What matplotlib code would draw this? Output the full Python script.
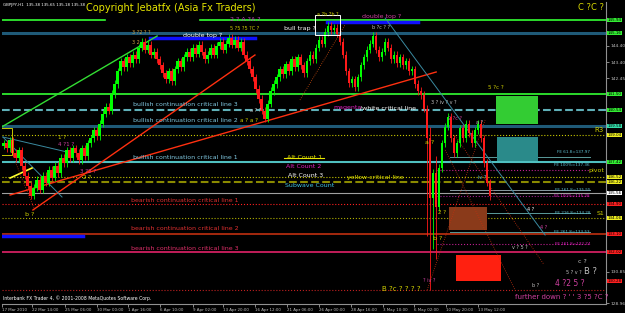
import numpy as np
import matplotlib.pyplot as plt
import matplotlib.transforms as mtransforms
from matplotlib.patches import Rectangle

# GBPJPY H1 closes (17 Mar - 13 May 2010)
closes = [138.55, 138.25, 138.73, 137.96, 137.66, 138.13, 137.19, 136.60, 136.00, 135.41,
          135.89, 136.36, 135.77, 136.60, 136.18, 136.95, 136.48, 137.19, 136.77, 137.66,
          137.36, 138.13, 137.66, 138.25, 137.96, 137.54, 138.25, 137.78, 138.55, 138.84,
          139.32, 138.96, 139.73, 140.32, 140.74, 140.50, 141.51, 142.10, 142.87, 143.46,
          143.10, 143.70, 143.34, 143.87, 143.58, 144.29, 144.64, 144.17, 144.46, 143.87,
          144.05, 143.58, 143.22, 142.75, 142.39, 142.87, 142.28, 142.99, 143.46, 143.10,
          143.70, 144.05, 143.70, 144.29, 143.93, 144.46, 144.05, 143.58, 143.87, 144.29,
          143.87, 144.40, 144.64, 144.17, 144.52, 144.88, 144.46, 144.76, 144.29, 144.64,
          143.87, 143.46, 142.99, 142.51, 141.80, 141.21, 140.50, 140.03, 140.92, 141.69,
          142.10, 142.51, 142.99, 142.69, 143.28, 142.87, 143.58, 143.10, 143.70, 143.22,
          142.75, 143.46, 143.87, 143.58, 144.29, 144.76, 144.52, 145.23, 145.59, 145.35,
          145.47, 145.12, 144.64, 143.87, 142.87, 142.16, 142.39, 141.92, 142.51, 143.22,
          143.70, 144.17, 144.52, 144.99, 144.17, 143.70, 144.05, 144.64, 144.29, 143.58,
          143.87, 143.34, 143.70, 143.22, 143.46, 142.87, 142.99, 142.10, 141.69, 141.45,
          140.62, 138.84, 135.29, 136.77, 134.70, 137.07, 138.55, 139.55, 140.14, 138.84,
          137.96, 138.55, 139.44, 138.84, 139.73, 139.14, 138.55, 139.32, 139.73, 138.84,
          137.36, 136.18, 135.38]
first_open = 138.40
# 6 May flash crash bars have long wicks
spike_lows = {141: 133.0, 142: 129.75, 143: 132.2, 144: 131.6}
spike_highs = {142: 139.5, 144: 137.8}

# price axis
price_ticks = [146.30, 145.35, 144.40, 143.40, 142.45, 141.50, 140.55, 139.55, 138.60,
               137.60, 136.65, 135.70, 134.75, 133.76, 132.80, 131.85, 130.85, 129.90, 128.96]
date_labels = ['17 Mar 2010', '22 Mar 14:00', '25 Mar 06:00', '30 Mar 00:00', '1 Apr 16:00',
               '6 Apr 10:00', '9 Apr 02:00', '13 Apr 20:00', '16 Apr 12:00', '21 Apr 06:00',
               '26 Apr 00:00', '28 Apr 16:00', '3 May 10:00', '6 May 02:00', '10 May 20:00',
               '13 May 12:00']
date_bars = [-0.5, 9.5, 20.5, 31.2, 41.5, 52.2, 63.2, 73.2, 83.8, 94.5, 105.2, 115.8,
             126.5, 136.8, 147.5, 158.2]

# horizontal levels: (price, colour, width, style, x from, x to)
levels = [
    (145.94, '#33ff33', 1.2, '-', -0.5, 33.8),
    (145.94, '#33ff33', 1.2, '-', 65.5, 201),
    (145.16, '#1f5a78', 2.2, '-', -0.5, 201),
    (141.50, '#33ff33', 1.2, '-', -0.5, 201),
    (140.54, '#5fb0b8', 1.5, '--', -0.5, 201),
    (139.58, '#1f5a78', 2.2, '-', -0.5, 201),
    (139.04, '#c8c800', 0.8, ':', -0.5, 201),
    (137.42, '#4fc0c0', 1.5, '-', -0.5, 201),
    (136.52, '#c8c800', 0.8, ':', -0.5, 201),
    (136.22, '#8a8a00', 1.5, '--', -0.5, 201),
    (135.56, '#a0a0a0', 0.8, '-', -0.5, 201),
    (134.90, '#ff2020', 0.8, ':', -0.5, 201),
    (134.06, '#b0b000', 0.8, ':', -0.5, 201),
    (133.10, '#c03010', 1.2, '-', -0.5, 201),
    (132.02, '#d02060', 1.3, '-', -0.5, 201),
    (129.74, '#c02020', 0.8, ':', -0.5, 201),
    # FE projections
    (137.72, '#5a9a9a', 0.7, '-', 148.8, 195.5),
    (136.94, '#c02090', 0.8, ':', 144.5, 195.5),
    (135.74, '#8a9aa0', 0.7, '-', 148.8, 195.5),
    (135.38, '#a02090', 0.8, ':', 144.5, 195.5),
    (134.36, '#5a9a9a', 0.7, '-', 148.8, 195.5),
    (133.22, '#5a9a9a', 0.7, '-', 148.8, 195.5),
    (132.50, '#c02090', 0.8, ':', 144.5, 195.5),
]
# blue "double top" / bottom markers
blue_marks = [(144.86, 48.8, 83.8), (145.82, 107.8, 138.2), (132.98, -0.5, 26.5)]

# trend lines: ((bar, price), (bar, price), colour, width, style)
trendlines = [
    ((-1.2, 139.46), (51.2, 144.98), '#33dd33', 1.0, '-'),
    ((9.8, 134.54), (83.8, 143.84), '#ff3010', 1.0, '-'),
    ((2.2, 135.44), (144.2, 142.82), '#ff3010', 1.0, '-'),
    ((127.2, 146.06), (180.5, 133.04), '#3a8aa0', 0.7, '-'),
    ((98.8, 141.14), (113.8, 145.64), '#d05010', 0.6, ':'),
    ((-0.2, 138.92), (21.2, 138.02), '#3a8aa0', 0.7, '-'),
    ((-0.2, 138.92), (19.5, 135.32), '#3a8aa0', 0.7, '-'),
    ((2.2, 136.46), (9.5, 137.06), '#ffff30', 1.2, '-'),
    ((141.2, 129.74), (160.5, 139.94), '#c03010', 0.6, ':'),
    ((147.2, 138.14), (170.5, 129.74), '#c03010', 0.6, ':'),
    ((150.5, 139.0), (180.0, 131.3), '#c03010', 0.6, ':'),
    ((4.0, 137.4), (10.5, 134.5), '#c03010', 0.6, ':'),
]

# target boxes: (bar from, bar to, price low, price high, colour, hatch)
boxes = [
    (164.2, 178.2, 139.70, 141.38, '#33cc33', None),
    (164.5, 178.2, 137.48, 138.92, '#2a8a8a', '....'),
    (148.5, 161.2, 133.34, 134.72, '#8a3a1a', '....'),
    (150.8, 165.8, 130.28, 131.84, '#ff2010', None),
]

# highlighted price labels on the right axis
price_tags = [(145.94, '#33ee33'), (145.16, '#33ee33'), (141.50, '#33ee33'), (140.54, '#33ee33'),
              (139.58, '#33ddaa'), (139.04, '#eeee20'), (137.42, '#33ee33'), (136.52, '#eeee20'),
              (136.22, '#eeee20'), (135.56, '#ffffff'), (134.90, '#ff2020'), (134.06, '#eeee20'),
              (133.10, '#ff2020'), (132.02, '#ff2020'), (130.28, '#ff2020')]


def px(x, y):
    # screen pixel -> (bar, price)
    return (x - 3.5) / 3.0, 146.30 - (y - 14) / 16.67


fig = plt.figure(figsize=(6.25, 3.13), dpi=100, facecolor='black')
ax = fig.add_axes([2 / 625, 9 / 313, 604 / 625, 302 / 313])
ax.set_facecolor('black')
ax.set_xlim(-0.5, 200.8)
ax.set_ylim(128.90, 147.02)

for p, c, w, ls, x0, x1 in levels:
    ax.plot([x0, x1], [p, p], color=c, lw=w, ls=ls, zorder=1)
for p, x0, x1 in blue_marks:
    ax.plot([x0, x1], [p, p], color='#1010ff', lw=2.5, zorder=2)
for (x0, y0), (x1, y1), c, w, ls in trendlines:
    ax.plot([x0, x1], [y0, y1], color=c, lw=w, ls=ls, zorder=3)
for x0, x1, lo, hi, c, h in boxes:
    ax.add_patch(Rectangle((x0, lo), x1 - x0, hi - lo, facecolor=c, edgecolor=c,
                           hatch=h, lw=0, zorder=2))

# candles
x = np.arange(len(closes))
opens = [first_open] + closes[:-1]
for i in x:
    o, c = opens[i], closes[i]
    col = '#00ff00' if c >= o else '#ff1a1a'
    hi = spike_highs.get(i, max(o, c) + 0.22)
    lo = spike_lows.get(i, min(o, c) - 0.22)
    ax.vlines(i, lo, hi, color=col, lw=0.6, zorder=4)
    ax.bar(i, max(abs(c - o), 0.04), bottom=min(o, c), width=0.7, color=col, lw=0, zorder=4)

# white bull trap box
bx0, by0 = px(315, 35)
bx1, by1 = px(340, 15)
ax.add_patch(Rectangle((bx0, by0), bx1 - bx0, by1 - by0, fill=False, ec='white', lw=0.7, zorder=5))
# yellow box top left
yx0, yy0 = px(0, 155)
yx1, yy1 = px(12, 128)
ax.add_patch(Rectangle((yx0, yy0), yx1 - yx0, yy1 - yy0, fill=False, ec='#c8c800', lw=0.7, zorder=5))

# texts
texts = [
    (3, 5, 'GBPJPY,H1  135.38 135.65 135.18 135.38', 'white', 2.9, 'left'),
    (86, 8, 'Copyright Jebatfx (Asia Fx Traders)', '#e6e600', 7, 'left'),
    (604, 7, 'C ?C ?', '#d8d800', 6, 'right'),
    (183, 36, 'double top ?', 'white', 4.5, 'left'),
    (132, 33, '3 ?2 ? ?', '#d0a040', 3.5, 'left'),
    (132, 43, '3 2', '#d0a040', 3.5, 'left'),
    (230, 20, '2 ? A ?A ?', '#c040c0', 4.5, 'left'),
    (230, 29, '5 ?5 ?5 ?C ?', '#d0d000', 3.5, 'left'),
    (284, 29, 'bull trap ?', 'white', 4.5, 'left'),
    (317, 14, 'a ?b ?b ?', '#d0d000', 3.5, 'left'),
    (362, 17, 'double top ?', '#d040a0', 4.5, 'left'),
    (372, 28, 'b ?c ? ?', '#c0c0c0', 3.5, 'left'),
    (133, 105, 'bullish continuation critical line 3', '#80c8e0', 4.5, 'left'),
    (333, 108, 'magenta', '#e020c0', 4.5, 'left'),
    (360, 108, '/white critical line', 'white', 4.5, 'left'),
    (133, 121, 'bullish continuation critical line 2', '#80c8e0', 4.5, 'left'),
    (240, 121, 'a ? a ?', '#d0d000', 4, 'left'),
    (250, 111, 'a ? ?', '#c0c0c0', 3.5, 'left'),
    (133, 158, 'bullish continuation critical line 1', '#80c8e0', 4.5, 'left'),
    (287, 158, 'Alt Count 1', '#e6e600', 4.5, 'left'),
    (286, 167, 'Alt Count 2', '#e020c0', 4.5, 'left'),
    (288, 176, 'Alt Count 3', 'white', 4.5, 'left'),
    (285, 186, 'Subwave Count', '#40c0e0', 4.5, 'left'),
    (347, 178, 'yellow critical line', '#e6e600', 4.5, 'left'),
    (131, 201, 'bearish continuation critical line 1', '#e03030', 4.5, 'left'),
    (131, 229, 'bearish continuation critical line 2', '#e03030', 4.5, 'left'),
    (131, 249, 'bearish continuation critical line 3', '#e0306a', 4.5, 'left'),
    (58, 138, '1 ?', '#d0d000', 4, 'left'),
    (58, 145, '4 ?1 ?', '#d040a0', 4, 'left'),
    (80, 172, '3 ?2 ?', '#d040a0', 4, 'left'),
    (83, 178, '2 ?', '#d0d000', 4, 'left'),
    (25, 215, 'b ?', '#d0d000', 4.5, 'left'),
    (604, 130, 'R3', '#d0d000', 5, 'right'),
    (604, 171, 'pivot', '#d0d000', 4.5, 'right'),
    (604, 214, 'S1', '#d0d000', 4.5, 'right'),
    (590, 152, 'FE 61.8=137.97', '#60c0d0', 3.0, 'right'),
    (590, 165, 'FE 100%=137.36', '#60c0d0', 3.0, 'right'),
    (590, 190, 'FE 161.8=135.55', '#60c0d0', 3.0, 'right'),
    (590, 196, 'FE 100%=135.28', '#e020c0', 3.0, 'right'),
    (590, 213, 'FE 216.8=134.28', '#60c0d0', 3.0, 'right'),
    (590, 232, 'FE 261.8=133.53', '#60c0d0', 3.0, 'right'),
    (590, 244, 'FE 161.8=132.74', '#e020c0', 3.0, 'right'),
    (425, 143, 'a ?', '#d0d000', 4.5, 'left'),
    (433, 239, 'b ?', '#d0d000', 4.5, 'left'),
    (438, 213, '2 ?', '#d0d000', 4, 'left'),
    (431, 103, '3 ? iv ? v ?', '#c0c0c0', 3.5, 'left'),
    (448, 119, '2 ?c ?', '#d040a0', 3.5, 'left'),
    (476, 123, 'a ?', '#c0c0c0', 3.5, 'left'),
    (478, 178, 'iv ?', '#60c0d0', 3.5, 'left'),
    (488, 88, '5 ?c ?', '#d0d000', 4, 'left'),
    (527, 210, '4 ?', 'white', 3.5, 'left'),
    (540, 228, '4 ?', '#d040a0', 3.5, 'left'),
    (512, 248, 'v ? 5 ?', '#c0c0c0', 3.5, 'left'),
    (578, 262, 'c ?', '#c0c0c0', 4.5, 'left'),
    (566, 273, '5 ? v ?', '#c0c0c0', 3.5, 'left'),
    (584, 272, 'B ?', '#c0c0c0', 6, 'left'),
    (555, 284, "4 ?2 5 ?", '#d040a0', 5.5, 'left'),
    (532, 286, 'b ?', '#c0c0c0', 3.5, 'left'),
    (515, 297, "further down ? ' ' 3 ?5 ?C ?", '#d040a0', 5, 'left'),
    (382, 289, 'B ?c ? ? ? ?', '#d0d000', 5, 'left'),
    (423, 281, '? iv ?', '#d040a0', 3.5, 'left'),
    (3, 298, 'Interbank FX Trader 4, \u00a9 2001-2008 MetaQuotes Software Corp.', 'white', 3.3, 'left'),
]
for tx, ty, s, c, fs, ha in texts:
    bx, by = px(tx, ty)
    ax.text(bx, by, s, color=c, fontsize=fs, ha=ha, va='center', zorder=6)
# strike through Alt Count 1
sx0, sy = px(284, 158)
sx1, _ = px(324, 158)
ax.plot([sx0, sx1], [sy, sy], color='#e6e600', lw=0.8, zorder=6)

# axes styling
for side in ['left', 'top']:
    ax.spines[side].set_visible(False)
for side in ['right', 'bottom']:
    ax.spines[side].set_color('#909090')
    ax.spines[side].set_linewidth(0.8)
ax.yaxis.tick_right()
# the coloured tags cover the plain price labels they sit on
tag_prices = [p for p, _ in price_tags]
shown_ticks = [t for t in price_ticks if min(abs(t - q) for q in tag_prices) > 0.45]
ax.set_yticks(shown_ticks)
ax.set_yticklabels(['%.2f' % p for p in shown_ticks])
ax.tick_params(axis='y', colors='#c0c0c0', labelsize=3.2, length=2, width=0.5, pad=1)
ax.set_xticks(date_bars)
ax.set_xticklabels(date_labels, ha='left')
ax.tick_params(axis='x', colors='#c0c0c0', labelsize=2.9, length=2, width=0.5, pad=1)

trans = mtransforms.blended_transform_factory(ax.transAxes, ax.transData)
for p, fc in price_tags:
    ax.text(1.003, p, '%.2f' % p, transform=trans, fontsize=3.0, color='black', ha='left',
            va='center', clip_on=False, zorder=7,
            bbox=dict(boxstyle='square,pad=0.1', fc=fc, ec='none'))

fig.savefig('out.png', dpi=100, facecolor='black')
